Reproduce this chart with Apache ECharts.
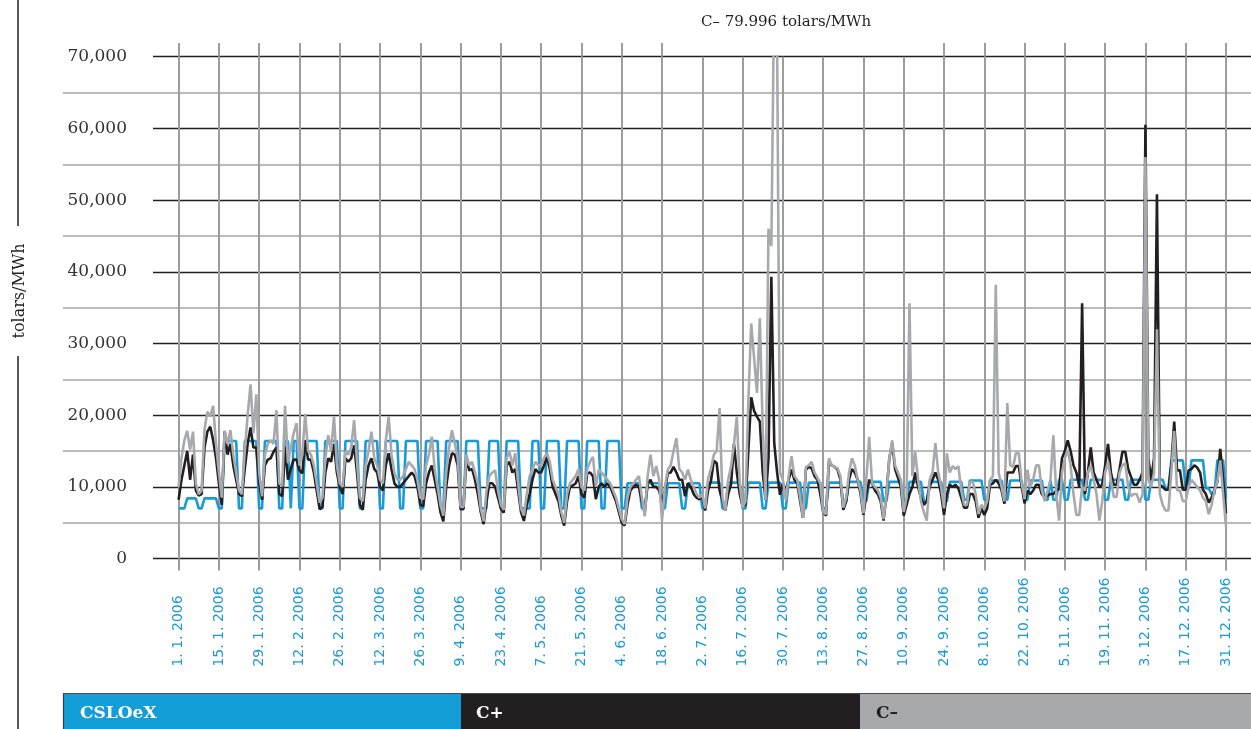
<!DOCTYPE html>
<html>
<head>
<meta charset="utf-8">
<script src="https://cdn.jsdelivr.net/npm/echarts@6/dist/echarts.min.js"></script>
<style>
  html, body { margin: 0; padding: 0; background: #ffffff; }
  #chart { width: 1251px; height: 729px; }
</style>
</head>
<body>
<div id="chart"></div>
<script>
// Daily prices through 2006, tolars/MWh. Seven values per row, rows starting on 1 Jan.
const csloex = [
  7000,7000,7000,8400,8400,8400,8400,
  7000,7000,8400,8400,8400,8400,8400,
  7000,7000,16400,16400,16400,16400,16400,
  7000,7000,16400,16400,16400,16400,16400,
  7000,7000,16400,16400,16400,16400,16400,
  7000,7000,16400,16400,7000,16400,16400,
  7000,7000,16400,16400,16400,16400,16400,
  7000,7000,16400,16400,16400,16400,16400,
  7000,7000,16400,16400,16400,16400,16400,
  7000,7000,16400,16400,16400,16400,16400,
  7000,7000,16400,16400,16400,16400,16400,
  7000,7000,16400,16400,16400,16400,16400,
  7000,7000,16400,16400,16400,16400,16400,
  7000,7000,16400,16400,16400,16400,16400,
  7000,7000,16400,16400,16400,16400,16400,
  7000,7000,7000,16400,16400,16400,16400,
  7000,7000,16400,16400,16400,16400,16400,
  7000,7000,7000,7000,16400,16400,16400,
  7000,7000,16400,16400,16400,16400,16400,
  7000,7000,16400,16400,16400,16400,16400,
  7000,7000,16400,16400,16400,16400,16400,
  7000,7000,16400,16400,16400,16400,16400,
  7000,7000,10500,10500,10500,10500,10500,
  7000,7000,10500,10500,10500,10500,10500,
  7000,7000,10500,10500,10500,10500,10500,
  7000,7000,10500,10500,10500,10500,10500,
  7000,7000,10600,10600,10600,10600,10600,
  7000,7000,10600,10600,10600,10600,10600,
  7000,7000,10600,10600,10600,10600,10600,
  7000,7000,10600,10600,10600,10600,10600,
  7000,7000,10600,10600,10600,10600,10600,
  7000,7000,10600,10600,10600,10600,10600,
  7000,7000,10600,10600,10600,10600,10600,
  8000,8000,10700,10700,10700,10700,10700,
  8000,8000,10700,10700,10700,10700,10700,
  8000,8000,10700,10700,10700,10700,10700,
  8000,8000,10700,10700,10700,10700,10700,
  8000,8000,10700,10700,10700,10700,10700,
  8000,8000,10700,10700,10700,10700,10700,
  8200,8200,10900,10900,10900,10900,10900,
  8200,8200,10900,10900,10900,10900,10900,
  8200,8200,10900,10900,10900,10900,10900,
  8200,8200,10900,10900,10900,10900,10900,
  8200,8200,10900,8200,8200,11000,11000,
  8200,8200,11000,11000,11000,11000,11000,
  8200,8200,11000,11000,11000,11000,11000,
  8200,8200,11000,11000,11000,11000,11000,
  8200,8200,11000,11000,11000,11000,11000,
  8200,8200,11000,11000,11000,11000,11000,
  9800,9800,13700,13700,13700,13700,13700,
  9800,9800,13700,13700,13700,13700,13700,
  9800,9800,9000,9000,13700,13700,13700,
  8400
];

const cPlus = [
  8200,11000,13000,15000,11000,14500,9500,
  8800,9000,15500,17700,18400,16500,14000,
  10500,7500,17800,14500,16000,13000,11000,
  9000,8700,12500,16000,18300,15500,15500,
  10500,8200,13000,13800,14000,14900,15500,
  9000,8700,15600,11000,12500,13800,13800,
  12300,11900,16500,13800,13800,12000,9500,
  6900,7200,12000,14000,13500,16000,12000,
  10000,9000,14000,13500,14000,15800,12000,
  7500,6800,11000,13000,14000,12500,12000,
  10000,9500,13000,14700,12500,10500,10000,
  10000,10500,11000,11500,12000,11500,10000,
  7500,7300,10500,12000,13000,11000,9000,
  6500,5200,10000,13000,14700,14500,13000,
  6900,6900,14000,12300,12500,11000,9000,
  6500,4800,8000,10500,10500,10000,8500,
  7000,6400,13000,13500,12000,12500,9500,
  6500,5250,7500,9000,11000,12500,12000,
  12000,13000,14200,12500,10000,9000,8000,
  6000,4600,8000,10000,10200,10500,11500,
  9000,8500,11900,12000,11500,8300,10000,
  10500,10000,10500,10000,9000,8000,6500,
  5000,4600,7500,9500,10000,10300,10000,
  8000,6400,10500,11000,10000,10000,9500,
  7800,9500,11900,12000,12800,12000,11000,
  11000,8700,10500,10000,9000,8500,8250,
  8700,6700,9500,10800,13650,13300,9500,
  8150,6700,9000,10400,16000,12000,9000,
  7300,7500,15000,22500,20600,19800,19100,
  12000,8150,14000,39300,16100,12000,8900,
  10500,9500,11000,12400,11000,10500,8000,
  5700,12400,12800,12600,11500,11000,9000,
  6500,6000,13500,13000,12800,12400,11000,
  6800,8000,11000,12500,12000,11000,9000,
  6100,9000,11000,10500,9500,9000,8000,
  5300,9000,14000,16100,12500,11300,10000,
  6000,7500,9000,10000,12000,10000,8500,
  7500,8000,10000,11000,12000,11000,9000,
  6100,9000,10300,10000,10300,9800,8500,
  7100,7100,9000,9000,8000,5700,7000,
  6100,7000,10300,10500,11000,10500,9500,
  7650,12000,12000,12000,12900,12900,10000,
  7700,9500,9000,9500,10300,10300,9000,
  8600,8800,9000,9000,9500,9700,14000,
  15000,16500,15000,13000,12000,10000,35600,
  9000,12000,15500,12000,11000,10000,10300,
  13000,16000,12000,10300,10300,12500,14900,
  14900,12500,11400,10300,10300,11000,12000,
  60500,14000,11000,14000,50800,10300,10000,
  9600,9600,13000,19100,12300,12300,9600,
  9600,12300,12500,13000,12700,12000,9600,
  9000,7800,8500,9600,10700,15300,11000,
  6300
];

const cMinus = [
  10000,14000,16500,17800,15200,17700,10500,
  9000,9500,18000,20500,19800,21300,16000,
  12000,8500,17800,16000,17900,14500,12000,
  9500,9000,15000,20000,24300,17500,22900,
  12000,8700,14500,16000,16500,16000,20700,
  10500,10100,21300,13300,15500,17500,18900,
  13000,14500,20200,15000,14500,13000,10500,
  7800,8500,14000,17200,15000,19800,13000,
  10500,10000,15000,14500,15500,19300,13500,
  8500,8000,13000,15000,17700,14000,13000,
  11000,10500,16500,19800,14500,12000,11000,
  11000,11500,12500,13500,13000,12500,11000,
  8500,8300,13000,14500,17000,12500,10000,
  7500,6000,12000,15500,17900,16000,14000,
  7200,7200,14500,13000,13500,12000,10500,
  7000,5200,9500,11500,12000,12300,9500,
  7500,6800,14000,14900,13000,14700,10500,
  7000,6000,9000,11500,12500,13500,13000,
  13000,14000,14700,13500,11000,10000,9000,
  6500,5000,9000,10500,11000,11500,12500,
  10000,9500,12500,13500,14200,10000,12400,
  12000,11500,11000,10500,9500,8500,7000,
  5500,4800,8500,10000,10500,11000,11500,
  8500,5900,11500,14500,11500,12900,11000,
  5300,10000,12400,13000,15000,16800,12500,
  12000,11000,12400,11000,10000,9000,8500,
  9000,7000,11150,12500,14500,15000,21000,
  8500,6700,11000,12900,16000,19800,10500,
  7100,8000,22000,32800,28000,23100,33500,
  18000,8150,46000,43600,79996,72000,12000,
  11000,8150,11500,14300,11500,11000,8500,
  5700,12800,13000,13500,12000,11300,10500,
  6500,6200,14000,13000,12800,12600,11500,
  7100,8500,12000,14000,13000,11000,9500,
  6300,11000,17000,10500,10000,9500,8500,
  5500,9000,14000,16500,13000,12000,11000,
  6500,8500,35600,11500,14900,11000,8000,
  6500,5300,11000,12000,16100,12000,10000,
  7000,14700,12000,12900,12500,12900,9500,
  7500,7500,10700,10700,9000,6200,7500,
  7000,8000,11000,11500,38200,12000,10000,
  8000,21700,13000,12800,14700,14700,10500,
  8300,12400,10000,11000,13000,13000,9500,
  8000,9500,11000,17200,9000,5300,12000,
  14000,15200,13000,9000,6100,6100,10000,
  9500,12000,13000,11000,9000,5300,8000,
  12000,13500,11000,8600,8600,12000,13000,
  13300,10000,8700,9000,9000,7800,9000,
  56000,11000,10000,12000,32000,9000,7500,
  6700,6700,12000,17800,9500,9500,8000,
  8000,10000,11000,10500,10000,9500,8500,
  8000,6200,7500,9500,10800,13700,9000,
  4500
];

// One category per day of 2006, labelled "d. m. yyyy"
const days = [];
for (let d = new Date(Date.UTC(2006, 0, 1)); d.getUTCFullYear() === 2006; d.setUTCDate(d.getUTCDate() + 1)) {
  days.push(d.getUTCDate() + '. ' + (d.getUTCMonth() + 1) + '. ' + d.getUTCFullYear());
}

const seriesNames = ['CSLOeX', 'C+', 'C\u2013'];
const colors = { blue: '#1a9ad6', black: '#231f20', grey: '#a7a9ac' };

const W = 1251, H = 729;
const yTop = 56.7, yZero = 558.6;            // pixel rows of 70,000 and 0
const px = (yZero - yTop) / 70000;           // pixels per tolar
const plotLeft = 178.6, plotRight = W - 1226; // first and last day
const tickEvery = 14;

const chart = echarts.init(document.getElementById('chart'), null, { renderer: 'canvas' });

const fmt = v => v === 0 ? '0' : String(v).replace(/\B(?=(\d{3})+(?!\d))/g, ',');
const peak = Math.max(...cMinus);

const hiddenX = (gridIndex) => ({ type: 'value', gridIndex, show: false, min: 0, max: 1 });

chart.setOption({
  animation: false,
  backgroundColor: '#ffffff',
  grid: [
    // 0: black rules every 10,000 and the value labels
    { left: 153, right: 0, top: yTop, bottom: H - yZero, containLabel: false },
    // 1: grey rules at the odd 5,000 steps, reaching further left
    { left: 63, right: 0, top: yZero - 65000 * px, bottom: H - (yZero - 5000 * px), containLabel: false },
    // 2: the data
    { left: plotLeft, right: plotRight, top: yTop, bottom: H - yZero, containLabel: false },
    // 3: short extensions of the day rules above the top rule
    { left: plotLeft, right: plotRight, top: 43, height: yTop - 43, containLabel: false }
  ],
  xAxis: [
    hiddenX(0),
    hiddenX(1),
    {
      type: 'category', gridIndex: 2, data: days, boundaryGap: false,
      axisLine: { show: false },
      axisTick: { show: true, interval: tickEvery - 1, length: 12, lineStyle: { color: '#9d9d9d', width: 2 } },
      splitLine: { show: true, interval: tickEvery - 1, lineStyle: { color: '#9d9d9d', width: 2 } },
      axisLabel: {
        interval: tickEvery - 1, rotate: 90, align: 'left', verticalAlign: 'middle', margin: 108,
        color: '#1a9ad6', fontFamily: 'DejaVu Sans', fontSize: 14
      }
    },
    {
      type: 'category', gridIndex: 3, data: days, boundaryGap: false,
      axisLine: { show: false }, axisTick: { show: false }, axisLabel: { show: false },
      splitLine: {
        show: true,
        interval: (i) => i % tickEvery === 0 && (i < 182 || i > 252),
        lineStyle: { color: '#9d9d9d', width: 2 }
      }
    }
  ],
  yAxis: [
    {
      type: 'value', gridIndex: 0, min: 0, max: 70000, interval: 10000,
      axisLine: { show: false }, axisTick: { show: false },
      splitLine: { show: true, lineStyle: { color: '#231f20', width: 1.3 } },
      axisLabel: { margin: 26, color: '#333333', fontFamily: 'DejaVu Serif', fontSize: 17, formatter: fmt }
    },
    {
      type: 'value', gridIndex: 1, min: 5000, max: 65000, interval: 10000,
      axisLine: { show: false }, axisTick: { show: false }, axisLabel: { show: false },
      splitLine: { show: true, lineStyle: { color: '#a3a3a3', width: 1.5 } }
    },
    {
      type: 'value', gridIndex: 2, min: 0, max: 70000, show: false,
      splitLine: { show: false }
    },
    { type: 'value', gridIndex: 3, show: false, splitLine: { show: false } }
  ],
  series: [
    {
      name: seriesNames[0], type: 'line', xAxisIndex: 2, yAxisIndex: 2, data: csloex,
      showSymbol: false, clip: true, z: 3,
      lineStyle: { color: colors.blue, width: 2.6 }
    },
    {
      name: seriesNames[1], type: 'line', xAxisIndex: 2, yAxisIndex: 2, data: cPlus,
      showSymbol: false, clip: true, z: 4,
      lineStyle: { color: colors.black, width: 2.6 }
    },
    {
      name: seriesNames[2], type: 'line', xAxisIndex: 2, yAxisIndex: 2, data: cMinus,
      showSymbol: false, clip: true, z: 5,
      lineStyle: { color: colors.grey, width: 2.6 }
    }
  ],
  graphic: [
    // note on the C– peak that runs off the top
    {
      type: 'text', x: 786, y: 22, z: 10,
      style: {
        text: seriesNames[2] + ' ' + (peak / 1000).toFixed(3) + ' tolars/MWh',
        fill: '#231f20', font: '15px "DejaVu Serif"', textAlign: 'center', textVerticalAlign: 'middle'
      }
    },
    // unit label with its rule
    {
      type: 'text', x: 20, y: 291, rotation: Math.PI / 2, z: 10,
      style: {
        text: 'tolars/MWh', fill: '#231f20', font: '16px "DejaVu Serif"',
        textAlign: 'center', textVerticalAlign: 'middle'
      }
    },
    { type: 'line', shape: { x1: 18, y1: 0, x2: 18, y2: 226 }, style: { stroke: '#231f20', lineWidth: 1.5 } },
    { type: 'line', shape: { x1: 18, y1: 356, x2: 18, y2: 729 }, style: { stroke: '#231f20', lineWidth: 1.5 } },
    // key bar
    { type: 'rect', shape: { x: 63, y: 694, width: 398, height: 36 }, style: { fill: '#139ed8' } },
    { type: 'rect', shape: { x: 461, y: 694, width: 399, height: 36 }, style: { fill: colors.black } },
    { type: 'rect', shape: { x: 860, y: 694, width: 391, height: 36 }, style: { fill: colors.grey } },
    { type: 'line', shape: { x1: 63, y1: 693.5, x2: 1251, y2: 693.5 }, style: { stroke: '#4d4d4d', lineWidth: 1.2 } },
    { type: 'line', shape: { x1: 63.5, y1: 693.5, x2: 63.5, y2: 729 }, style: { stroke: '#3a3a3a', lineWidth: 1.2 } },
    {
      type: 'text', x: 80, y: 714, z: 10,
      style: { text: seriesNames[0], fill: '#ffffff', font: 'bold 17px "DejaVu Serif"', textVerticalAlign: 'middle' }
    },
    {
      type: 'text', x: 476, y: 714, z: 10,
      style: { text: seriesNames[1], fill: '#ffffff', font: 'bold 17px "DejaVu Serif"', textVerticalAlign: 'middle' }
    },
    {
      type: 'text', x: 876, y: 714, z: 10,
      style: { text: seriesNames[2], fill: '#231f20', font: 'bold 17px "DejaVu Serif"', textVerticalAlign: 'middle' }
    }
  ]
});
</script>
</body>
</html>
